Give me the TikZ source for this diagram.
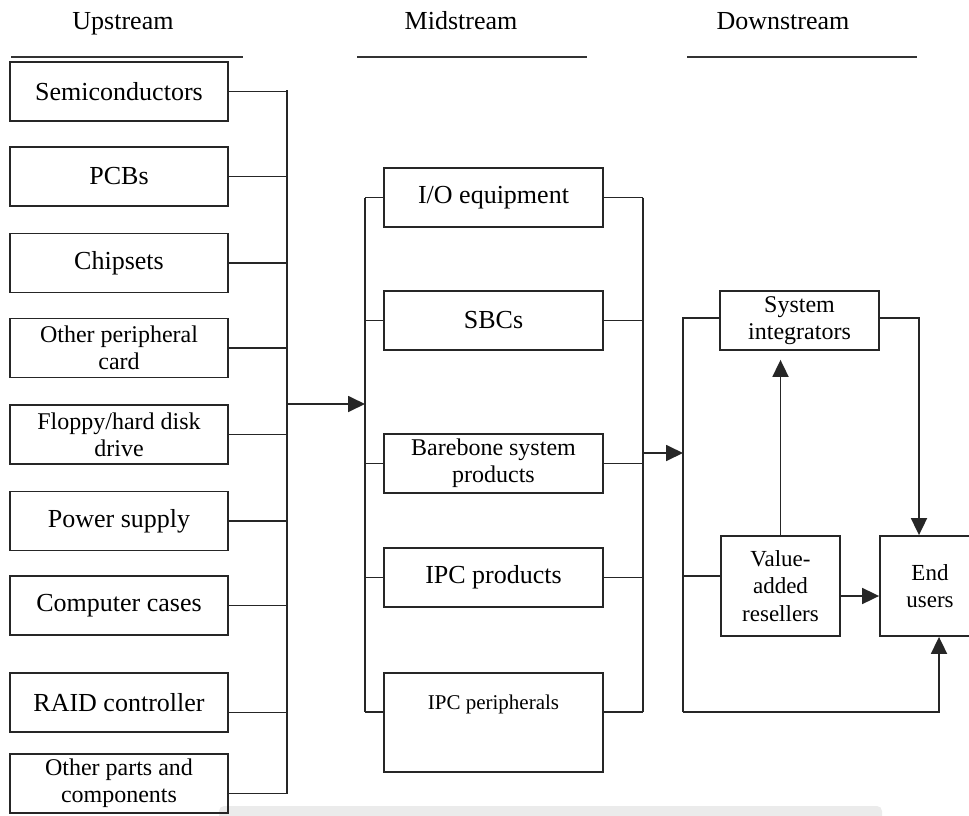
\documentclass[tikz,border=0pt]{standalone}
\usepackage{fontspec}
\setmainfont{Liberation Serif}
\usetikzlibrary{arrows.meta}

\begin{document}
\begin{tikzpicture}[
  x=1pt,y=-1pt,
  >={Triangle[length=17pt,width=16pt]},
  wire/.style={black!85,line width=1.8pt},
  box/.style={draw=black!85,line width=1.8pt,rectangle,inner sep=0pt,align=center},
  upbox/.style={box,minimum width=218pt,minimum height=59pt},
  midbox/.style={box,minimum width=219pt,minimum height=59pt},
  big/.style={font=\fontsize{26}{30}\selectfont},
  medium/.style={font=\fontsize{24}{27}\selectfont},
  little/.style={font=\fontsize{23}{27.5}\selectfont},
  hrule/.style={black!80,line width=1.8pt}
]
  \clip (0,0) rectangle (969,816);
  \fill[black!8,rounded corners=5pt] (219,806) rectangle (882,830);

  % headers
  \node[big,anchor=base] (hup) at (123,30) {Upstream};
  \node[big,anchor=base] (hmid) at (461,30) {Midstream};
  \node[big,anchor=base] (hdown) at (783,30) {Downstream};
  \draw[hrule] (11,57) -- (243,57);
  \draw[hrule] (357,57) -- (587,57);
  \draw[hrule] (687,57) -- (917,57);

  % upstream
  \node[upbox,big] (semi) at (119,91.5) {Semiconductors};
  \node[upbox,big] (pcb) at (119,176.5) {PCBs};
  \node[upbox,big] (chip) at (119,263) {Chipsets};
  \node[upbox,medium] (periph) at (119,348) {Other peripheral\\card};
  \node[upbox,medium] (disk) at (119,434.5) {Floppy/hard disk\\drive};
  \node[upbox,big] (power) at (119,521) {Power supply};
  \node[upbox,big] (cases) at (119,605.5) {Computer cases};
  \node[upbox,big] (raid) at (119,702.5) {RAID controller};
  \node[upbox,medium] (parts) at (119,783.5) {Other parts and\\components};

  \coordinate (upT) at (287,90);
  \coordinate (upB) at (287,794);
  \coordinate (upM) at (287,404);
  \draw[wire] (upT) -- (upB);
  \foreach \n in {semi,pcb,chip,periph,disk,power,cases}
    \draw[wire] (\n.east) -- (\n.east -| upT);
  \path ([yshift=-10pt]raid.east) coordinate (raidc);
  \path ([yshift=-10pt]parts.east) coordinate (partsc);
  \draw[wire] (raidc) -- (raidc -| upT);
  \draw[wire] (partsc) -- (partsc -| upT);

  % midstream
  \node[midbox,big] (io) at (493.5,197.5) {I/O equipment};
  \node[midbox,big] (sbc) at (493.5,320.5) {SBCs};
  \node[midbox,medium] (bare) at (493.5,463.5) {Barebone system\\products};
  \node[midbox,big] (ipc) at (493.5,577.5) {IPC products};
  \node[midbox,font=\fontsize{21}{25}\selectfont,minimum height=99pt,
    text height=36pt,text depth=63pt] (ipcper) at (493.5,722.5) {IPC peripherals};

  \coordinate (mlT) at (365,197.5);
  \coordinate (mlB) at (365,712);
  \coordinate (mlM) at (365,404);
  \coordinate (mrT) at (643,197.5);
  \coordinate (mrB) at (643,712);
  \coordinate (mrM) at (643,453);
  \draw[wire] (mlT) -- (mlB);
  \draw[wire] (mrT) -- (mrB);
  \foreach \n in {io,sbc,bare,ipc} {
    \draw[wire] (\n.west) -- (\n.west -| mlT);
    \draw[wire] (\n.east) -- (\n.east -| mrT);
  }
  \draw[wire] (mlB) -- (mlB -| ipcper.west);
  \draw[wire] (mrB) -- (mrB -| ipcper.east);
  \draw[wire,->] (upM) -- (mlM);

  % downstream
  \node[box,medium,minimum width=159pt,minimum height=59pt] (si) at (799.5,320.5) {System\\integrators};
  \node[box,little,minimum width=119pt,minimum height=100pt] (var) at (780.5,586) {Value-\\added\\resellers};
  \node[box,little,minimum width=100pt,minimum height=100pt] (end) at (930,586) {End\\users};

  \coordinate (dT) at (683,318);
  \coordinate (dB) at (683,712);
  \coordinate (dM) at (683,453);
  \draw[wire,->] (mrM) -- (dM);
  \draw[wire] (dB) -- (dT) -- (dT -| si.west);
  \draw[wire] (var.west |- 0,576) -- (dT |- 0,576);
  \draw[wire,->,shorten >=9pt] (var.north) -- (var.north |- si.south);
  \draw[wire,->] ([yshift=-10pt]var.east) -- ([yshift=-10pt]end.west);
  \draw[wire,->] ([yshift=2.5pt]si.east) -| ([xshift=-11pt]end.north);
  \draw[wire,->] (dB) -| ([xshift=9pt]end.south);
\end{tikzpicture}
\end{document}
